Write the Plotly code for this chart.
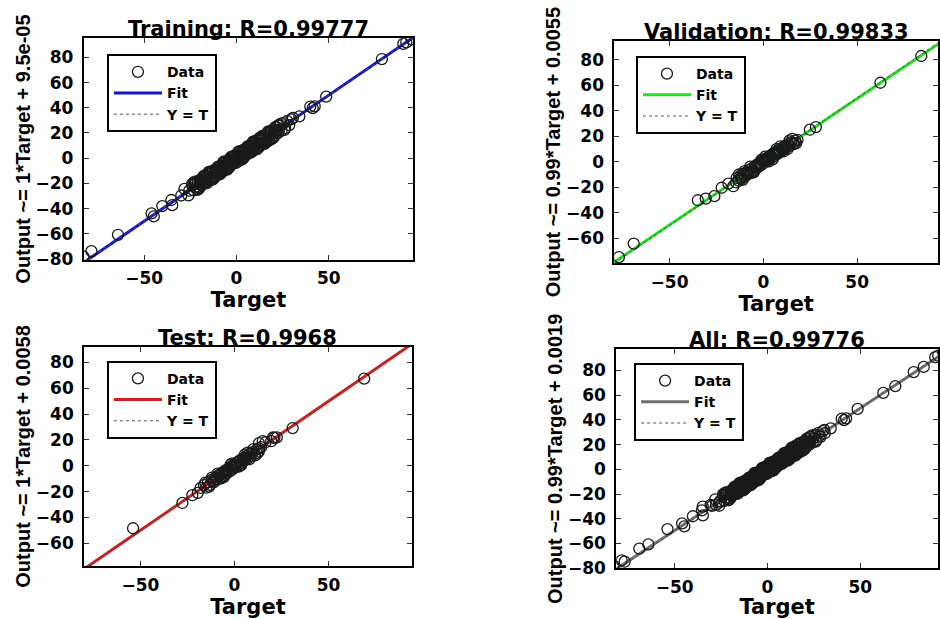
import plotly.graph_objects as go

# ---------------- data ----------------
train_target = [-83.0, -78.6, -64.2, -46.0, -44.8, -40.2, -35.3, -34.8, -29.9, -28.2, -25.6,
                34.1, 30.6, 41.3, 42.4, 40.0, 48.6, 78.8, 90.4, 92.0, 94.8,
                -24.0, -23.2, -22.5, -21.8, -21.0, -20.4, -19.7, -19.1, -18.5, -17.9, -17.2, -16.8,
                -16.1, -15.6, -15.0, -14.5, -13.9, -13.4, -12.8, -12.3, -11.7, -11.2, -10.6, -10.1,
                -9.5, -9.0, -8.4, -7.9, -7.3, -6.8, -6.2, -5.7, -5.1, -4.6, -4.0, -3.5, -2.9, -2.4,
                -1.8, -1.3, -0.7, -0.2, 0.4, 0.9, 1.5, 2.0, 2.6, 3.1, 3.7, 4.2, 4.8, 5.3, 5.9, 6.4,
                7.0, 7.5, 8.1, 8.6, 9.2, 9.7, 10.3, 10.8, 11.4, 11.9, 12.5, 13.0, 13.6, 14.1, 14.7,
                15.2, 15.8, 16.4, 17.1, 17.8, 18.6, 19.3, 20.1, 20.9, 21.8, 22.6, 23.5, 24.4, 25.5,
                26.4, 27.5, 28.6, 29.8,
                -12.0, -10.0, -8.0, -6.0, -4.0, -2.0, 0.0, 2.0, 4.0, 6.0, 8.0, 10.0, 12.0, 14.0, 16.0,
                -14.0, -16.0, -18.0, -20.0, 18.0, 20.0, 22.0, -9.0, -3.0, 3.0, 9.0, 1.0, -1.0, 5.0,
                -5.0, 7.0, -7.0, 11.0, -11.0,
                -22.0, -20.0, -18.0, -16.0, -14.0, -12.0, -10.0, -8.0, -6.0, -4.0, -2.0, 0.0, 2.0,
                4.0, 6.0, 8.0, 10.0, 12.0, 14.0, 16.0, 18.0, 20.0, 24.0, 26.0, -26.0, -24.0,
                -15.0, -9.0, -3.0, 3.0, 9.0, 15.0, 21.0, -21.0,
                -23.0, -21.0, -19.0, -17.0, -15.0, -13.0, -11.0, -9.0, -7.0, -5.0, -3.0, -1.0,
                1.0, 3.0, 5.0, 7.0, 9.0, 11.0, 13.0, 15.0, 17.0, 19.0, 21.0, 23.0,
                -22.5, -17.5, -12.5, -7.5, -2.5, 2.5, 7.5, 12.5, 17.5, 22.5]
train_output = [-78.0, -73.8, -60.8, -43.8, -46.2, -38.0, -33.2, -37.3, -29.6, -24.4, -25.8,
                33.2, 32.0, 39.8, 41.2, 41.0, 48.9, 78.7, 90.8, 92.0, 94.3,
                -21.6, -25.6, -20.3, -24.2, -18.9, -23.0, -17.2, -21.5, -15.9, -20.4, -15.0, -19.4,
                -13.6, -18.1, -12.4, -17.2, -11.3, -16.0, -10.2, -15.0, -9.1, -14.1, -8.0, -12.8,
                -6.8, -11.9, -5.8, -10.7, -4.5, -9.6, -3.5, -8.5, -2.4, -7.3, -1.5, -6.1, -0.2, -5.0,
                0.9, -3.9, 2.1, -2.7, 3.2, -1.7, 4.3, -0.6, 5.5, 0.5, 6.6, 1.6, 7.5, 2.7, 8.8, 3.8,
                9.7, 4.9, 10.9, 6.0, 12.0, 7.1, 13.1, 8.2, 14.2, 9.3, 15.3, 10.4, 16.4, 11.5, 17.5,
                12.6, 18.3, 13.8, 19.7, 15.2, 21.1, 16.8, 23.0, 18.2, 24.6, 20.0, 26.3, 21.8, 27.8,
                23.9, 29.5, 26.3, 30.9,
                -12.3, -9.6, -8.4, -5.7, -4.3, -1.6, 0.3, 1.8, 4.3, 5.8, 8.2, 10.4, 11.7, 14.3, 15.8,
                -14.5, -15.6, -18.3, -20.5, 18.4, 19.7, 22.5, -9.2, -2.6, 3.3, 8.7, 0.8, -1.2, 5.4,
                -4.6, 6.6, -7.5, 11.3, -10.6,
                -18.5, -23.5, -14.6, -19.8, -10.6, -15.6, -6.7, -11.5, -2.6, -7.6, 1.4, -3.6, 5.5,
                0.4, 9.4, 4.5, 13.6, 8.3, 17.7, 12.4, 21.5, 16.3, 27.5, 22.4, -29.5, -20.3,
                -11.2, -12.8, 0.9, -0.8, 12.9, 11.1, 24.6, -24.9,
                -19.0, -25.0, -18.1, -18.3, -10.9, -17.1, -10.0, -10.3, -2.8, -9.0, -2.0, -2.1,
                5.2, -1.0, 6.0, 5.9, 13.1, 7.0, 14.1, 13.8, 21.0, 15.1, 22.0, 21.9,
                -22.9, -13.8, -16.3, -7.1, 1.3, -1.2, 7.9, 16.2, 13.9, 26.0]

val_target = [-77.0, -69.1, -34.9, -30.7, -26.1, -22.2, -18.6, -16.0, 24.8, 28.0, 62.4, 84.2,
              -14.2, -13.1, -12.3, -11.5, -10.6, -9.8, -9.0, -8.3, -7.5, -6.8, -6.0, -5.3, -4.6,
              -3.9, -3.2, -2.5, -1.8, -1.1, -0.4, 0.3, 1.0, 1.7, 2.4, 3.1, 3.8, 4.5, 5.2, 5.9, 6.6,
              7.3, 8.0, 8.8, 9.6, 10.4, 11.3, 12.1, 13.0, 13.9, 14.8, 15.9, 17.0, 18.2,
              -8.0, -4.0, 0.0, 4.0, 8.0, 12.0, -12.0, 2.0, -2.0, 6.0, 10.0, 15.0,
              -10.0, -6.0, -1.0, 3.0, 7.0, 11.0, 14.0, 16.5,
              -13.0, -11.0, -9.0, -7.0, -5.0, -3.0, 1.0, 5.0, 9.0, 13.0, 15.5, 17.5, -14.5, 0.5, 6.5]
val_output = [-74.8, -64.2, -30.2, -28.9, -27.0, -20.4, -17.2, -19.2, 25.1, 27.2, 61.9, 82.9,
              -12.6, -14.8, -11.0, -13.2, -9.4, -11.5, -8.1, -9.9, -6.4, -8.3, -4.9, -6.9, -3.4,
              -5.4, -2.1, -3.9, -0.6, -2.5, 0.8, -1.0, 2.2, 0.4, 3.5, 1.9, 5.0, 3.2, 6.3, 4.6, 7.8,
              6.0, 9.1, 7.4, 10.7, 9.0, 12.2, 10.6, 13.8, 12.3, 15.4, 14.1, 16.6, 17.1,
              -8.6, -3.7, 0.2, 4.4, 7.7, 12.3, -12.5, 1.6, -1.8, 6.3, 9.7, 14.6,
              -7.4, -8.7, 1.7, 0.3, 9.8, 8.2, 16.7, 14.0,
              -10.0, -14.2, -9.4, -3.9, -8.1, -2.7, 4.0, 1.9, 12.1, 10.0, 17.9, 14.5, -16.2, 0.4, 6.8]

test_target = [-53.9, -27.7, -22.4, -19.5, -18.0, 30.9, 68.9, 21.2, 22.5, 15.0, 16.5, 13.0,
               -16.2, -15.0, -14.1, -13.0, -12.2, -11.1, -10.3, -9.4, -8.5, -7.7, -6.8, -6.0,
               -5.2, -4.4, -3.6, -2.8, -2.0, -1.2, -0.4, 0.4, 1.2, 2.0, 2.8, 3.6, 4.4, 5.2, 6.0,
               6.9, 7.8, 8.7, 9.7, 10.7, 11.8, 12.9, 14.1, 19.5, 20.5,
               -10.0, -6.0, -3.0, 0.0, 3.0, 6.0, 9.0, -8.0, 1.0, -1.0, -4.5, 4.5,
               -12.0, -7.0, -2.0, 2.5, 7.0, 11.0,
               -15.5, -13.5, -9.0, -5.5, -1.5, 3.5, 5.5, 8.0, 10.0, 12.0, 13.0, -11.5]
test_output = [-48.4, -28.8, -22.8, -21.0, -17.2, 29.2, 67.4, 21.6, 22.0, 19.0, 18.2, 17.5,
               -15.0, -17.0, -12.9, -14.8, -11.0, -12.9, -9.1, -11.0, -7.2, -9.3, -5.6, -7.8,
               -4.0, -6.2, -2.4, -4.6, -0.8, -3.0, 0.9, -1.3, 2.6, 0.4, 4.1, 2.1, 5.7, 3.8, 7.2,
               5.5, 8.9, 7.3, 10.6, 9.1, 12.5, 11.0, 14.4, 19.0, 21.9,
               -10.4, -5.7, -3.2, 0.1, 3.4, 5.8, 9.3, -7.8, 0.7, -1.3, -4.1, 4.8,
               -9.2, -9.8, 0.9, -0.6, 10.1, 8.0,
               -13.0, -16.2, -6.1, -8.6, 1.6, 0.4, 8.7, 5.2, 12.9, 9.4, 13.5, -11.8]

# "All" panel = every sample of the three subsets
all_target = train_target + val_target + test_target
all_output = train_output + val_output + test_output

panel_titles = ["Training: R=0.99777", "Validation: R=0.99833", "Test: R=0.9968", "All: R=0.99776"]
y_labels = ["Output ~= 1*Target + 9.5e-05", "Output ~= 0.99*Target + 0.0055",
            "Output ~= 1*Target + 0.0058", "Output ~= 0.99*Target + 0.0019"]
fit_slope = [1.0, 0.99, 1.0, 0.99]
fit_intercept = [9.5e-05, 0.0055, 0.0058, 0.0019]
x_limits = [[-82.7, 95.7], [-79.4, 93.1], [-79.9, 94.2], [-81.5, 91.9]]
y_limits = [[-80.6, 95.1], [-79.7, 94.8], [-77.9, 92.3], [-80.2, 97.2]]
x_tick_values = [-50, 0, 50]
legend_names = ["Data", "Fit", "Y = T"]

targets = [train_target, val_target, test_target, all_target]
outputs = [train_output, val_output, test_output, all_output]

# ---------------- styles / layout ----------------
fit_colors = ["#1414c8", "#22e022", "#d41c1c", "#707070"]
x_domains = [[0.0894, 0.4404], [0.655, 1.0], [0.0897, 0.439], [0.657, 1.0]]
y_domains = [[0.5735, 0.937], [0.5675, 0.933], [0.070, 0.431], [0.0667, 0.4265]]
legend_pos = [(0.114, 0.911), (0.678, 0.908), (0.114, 0.4076), (0.676, 0.404)]

BOLD = "DejaVu Sans"
fig = go.Figure()
layout = dict(
    width=940, height=619,
    margin=dict(l=0, r=0, t=0, b=0),
    paper_bgcolor="white", plot_bgcolor="white",
    showlegend=True, annotations=[],
)

for i in range(4):
    sfx = "" if i == 0 else str(i + 1)
    xa, ya = "x" + sfx, "y" + sfx
    lg = "legend" + sfx
    xl = x_limits[i]
    fit_y = [fit_slope[i] * v + fit_intercept[i] for v in xl]

    fig.add_trace(go.Scatter(x=xl, y=fit_y, mode="lines", name=legend_names[1],
                             line=dict(color=fit_colors[i], width=3),
                             xaxis=xa, yaxis=ya, legend=lg, legendrank=2, hoverinfo="skip"))
    fig.add_trace(go.Scatter(x=xl, y=xl, mode="lines", name=legend_names[2],
                             line=dict(color="#555555", width=1, dash="dot"),
                             xaxis=xa, yaxis=ya, legend=lg, legendrank=3, hoverinfo="skip"))
    fig.add_trace(go.Scatter(x=targets[i], y=outputs[i], mode="markers", name=legend_names[0],
                             marker=dict(symbol="circle-open", size=11, color="#1a1a1a",
                                         line=dict(width=1.3, color="#1a1a1a")),
                             xaxis=xa, yaxis=ya, legend=lg, legendrank=1))

    common = dict(showline=True, linecolor="black", linewidth=2, mirror="allticks",
                  ticks="inside", ticklen=5, tickcolor="#333333", tickwidth=1,
                  showgrid=False, zeroline=False,
                  tickfont=dict(family=BOLD, size=17, color="black", weight="bold"))
    layout["xaxis" + sfx] = dict(common, domain=x_domains[i], range=x_limits[i], anchor=ya,
                                 tickvals=x_tick_values, ticklabelstandoff=2,
                                 title=dict(text="Target", standoff=0,
                                            font=dict(family=BOLD, size=21, color="black",
                                                      weight="bold")))
    layout["yaxis" + sfx] = dict(common, domain=y_domains[i], range=y_limits[i], anchor=xa,
                                 tick0=0, dtick=20, ticklabelstandoff=5,
                                 title=dict(text=y_labels[i], standoff=0,
                                            font=dict(family="Liberation Sans", size=20,
                                                      color="black", weight="bold")))
    layout[lg] = dict(x=legend_pos[i][0], y=legend_pos[i][1], xanchor="left", yanchor="top",
                      bgcolor="white", bordercolor="black", borderwidth=2,
                      itemwidth=48, tracegroupgap=0,
                      font=dict(family=BOLD, size=14, color="black", weight="bold"))
    layout["annotations"].append(dict(
        text=panel_titles[i], xref="paper", yref="paper",
        x=(x_domains[i][0] + x_domains[i][1]) / 2, y=y_domains[i][1],
        xanchor="center", yanchor="bottom", yshift=-5, showarrow=False,
        font=dict(family=BOLD, size=21, color="black", weight="bold")))

fig.update_layout(**layout)
fig.write_html("out.html")
